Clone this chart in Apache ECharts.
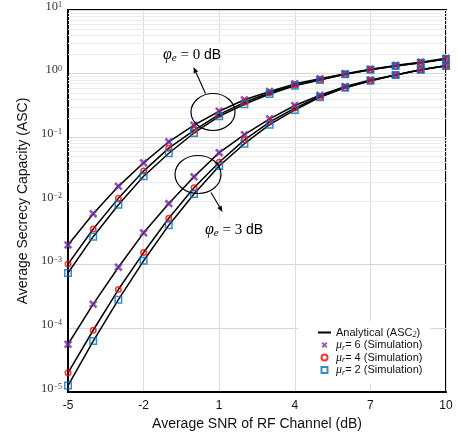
<!DOCTYPE html>
<html>
<head>
<meta charset="utf-8">
<script src="https://cdn.jsdelivr.net/npm/echarts@6/dist/echarts.min.js"></script>
<style>
  html, body { margin: 0; padding: 0; background: #fff; }
  #chart { width: 458px; height: 437px; }
</style>
</head>
<body>
<div id="chart"></div>
<script>
// Average SNR of the RF channel (dB)
const snr = [-5, -4, -3, -2, -1, 0, 1, 2, 3, 4, 5, 6, 7, 8, 9, 10];

// Average secrecy capacity, phi_e = 0 dB
const asc0_mu6 = [2.04e-3, 6.31e-3, 0.0170, 0.0398, 0.0851, 0.155, 0.257, 0.389, 0.525, 0.692, 0.832, 1.00, 1.175, 1.35, 1.51, 1.74];
const asc0_mu4 = [1.02e-3, 3.63e-3, 0.0110, 0.0295, 0.0676, 0.129, 0.229, 0.355, 0.501, 0.661, 0.813, 0.977, 1.15, 1.32, 1.48, 1.70];
const asc0_mu2 = [7.41e-4, 2.75e-3, 8.71e-3, 0.0245, 0.0562, 0.117, 0.214, 0.331, 0.479, 0.646, 0.794, 0.977, 1.15, 1.32, 1.48, 1.70];

// Average secrecy capacity, phi_e = 3 dB
const asc3_mu6 = [5.62e-5, 2.40e-4, 9.12e-4, 3.16e-3, 9.12e-3, 0.0240, 0.0575, 0.110, 0.195, 0.316, 0.457, 0.631, 0.794, 0.955, 1.15, 1.35];
const asc3_mu4 = [2.00e-5, 9.33e-5, 4.07e-4, 1.55e-3, 5.37e-3, 0.0162, 0.0407, 0.0912, 0.174, 0.288, 0.437, 0.603, 0.776, 0.955, 1.15, 1.33];
const asc3_mu2 = [1.26e-5, 6.31e-5, 2.82e-4, 1.15e-3, 4.17e-3, 0.0129, 0.0355, 0.0794, 0.158, 0.269, 0.427, 0.603, 0.776, 0.955, 1.15, 1.32];

// Axis ranges
const xMin = -5, xMax = 10, xStep = 3;
const yMin = 1e-5, yMax = 10;

const NAME_ANA = 'Analytical (ASC2)';
const NAME_MU6 = 'mu6';
const NAME_MU4 = 'mu4';
const NAME_MU2 = 'mu2';

const PURPLE = '#7030A0', RED = '#FF0000', BLUE = '#0070C0';
const X_PATH = 'path://M0,2.2 L2.2,0 L10,7.8 L7.8,10 Z M7.8,0 L10,2.2 L2.2,10 L0,7.8 Z';
const SQ_PATH = 'path://M0,0 L10,0 L10,10 L0,10 Z';

const pairs = ys => snr.map((x, i) => [x, ys[i]]);

function analytic(ys) {
  return {
    type: 'line', name: NAME_ANA, data: pairs(ys),
    symbol: 'none', smooth: false,
    color: '#000',
    lineStyle: { color: '#000', width: 1.5 },
    itemStyle: { color: '#000' },
    silent: true, z: 3
  };
}

function sim(name, ys, kind) {
  const base = { type: 'scatter', name: name, data: pairs(ys), silent: true };
  if (kind === 'x') {
    return Object.assign(base, { symbol: X_PATH, symbolSize: 8.5, itemStyle: { color: PURPLE }, z: 4 });
  }
  if (kind === 'o') {
    return Object.assign(base, { symbol: 'circle', symbolSize: 5.5, itemStyle: { color: 'rgba(0,0,0,0)', borderColor: RED, borderWidth: 1.5 }, z: 5 });
  }
  return Object.assign(base, { symbol: 'rect', symbolSize: 6.5, itemStyle: { color: 'rgba(0,0,0,0)', borderColor: BLUE, borderWidth: 1.5 }, z: 6 });
}

// light minor grid at 2..9 within each decade
const minorGrid = [];
for (let d = -5; d < 1; d++) {
  for (let k = 2; k <= 9; k++) minorGrid.push({ yAxis: k * Math.pow(10, d) });
}

function expLabel(v) {
  const e = Math.round(Math.log10(v));
  const s = String(e).replace('-', '\u2212');
  return '{b|10}{e|' + s + '}';
}

const chart = echarts.init(document.getElementById('chart'), null, { renderer: 'canvas' });

const series = [
  Object.assign(analytic(asc0_mu6), {
    markLine: {
      silent: true, symbol: 'none', z: 1, animation: false,
      label: { show: false },
      lineStyle: { color: '#ececec', width: 1, type: 'solid' },
      emphasis: { disabled: true },
      data: minorGrid
    }
  }),
  analytic(asc0_mu4), analytic(asc0_mu2),
  analytic(asc3_mu6), analytic(asc3_mu4), analytic(asc3_mu2),
  sim(NAME_MU6, asc0_mu6, 'x'), sim(NAME_MU6, asc3_mu6, 'x'),
  sim(NAME_MU4, asc0_mu4, 'o'), sim(NAME_MU4, asc3_mu4, 'o'),
  sim(NAME_MU2, asc0_mu2, 's'), sim(NAME_MU2, asc3_mu2, 's')
];

const legendText = {
  [NAME_ANA]: '{t|Analytical (ASC}{sub|2}{t|)}',
  [NAME_MU6]: '{mu|\u03bc}{sub|r}{t|= 6 (Simulation)}',
  [NAME_MU4]: '{mu|\u03bc}{sub|r}{t|= 4 (Simulation)}',
  [NAME_MU2]: '{mu|\u03bc}{sub|r}{t|= 2 (Simulation)}'
};

// annotation helpers
function arrow(x1, y1, x2, y2) {
  const ang = Math.atan2(y2 - y1, x2 - x1);
  const L = 6, W = 2.4;
  const bx = x2 - L * Math.cos(ang), by = y2 - L * Math.sin(ang);
  const px = -Math.sin(ang) * W, py = Math.cos(ang) * W;
  return [
    { type: 'line', shape: { x1: x1, y1: y1, x2: bx, y2: by }, style: { stroke: '#000', lineWidth: 1.1 }, silent: true, z: 10 },
    { type: 'polygon', shape: { points: [[x2, y2], [bx + px, by + py], [bx - px, by - py]] }, style: { fill: '#000' }, silent: true, z: 10 }
  ];
}

const annRich = {
  p: { fontFamily: 'Liberation Serif', fontStyle: 'italic', fontSize: 16, color: '#222', lineHeight: 18, verticalAlign: 'middle' },
  s: { fontFamily: 'Liberation Serif', fontStyle: 'italic', fontSize: 11, color: '#222', lineHeight: 11, verticalAlign: 'bottom' },
  q: { fontFamily: 'Liberation Serif', fontSize: 15, color: '#222', lineHeight: 18, verticalAlign: 'middle' },
  u: { fontFamily: 'Liberation Sans', fontSize: 14, color: '#222', lineHeight: 18, verticalAlign: 'middle' }
};

function annText(x, y, val) {
  return {
    type: 'text', x: x, y: y, silent: true, z: 9,
    style: {
      text: '{p|\u03c6}{s|e}{q| = ' + val + ' }{u|dB}',
      rich: annRich,
      backgroundColor: '#fff',
      padding: [2, 4, 2, 4],
      align: 'center', verticalAlign: 'middle'
    }
  };
}

const graphics = [
  annText(192, 55, '0'),
  { type: 'ellipse', shape: { cx: 213, cy: 112, rx: 22, ry: 18.5 }, style: { fill: 'none', stroke: '#000', lineWidth: 1.2 }, silent: true, z: 10 },
  ...arrow(205.5, 93.5, 193.5, 67),
  annText(234, 230, '3'),
  { type: 'ellipse', shape: { cx: 198, cy: 174.5, rx: 23, ry: 19 }, style: { fill: 'none', stroke: '#000', lineWidth: 1.2 }, silent: true, z: 10 },
  ...arrow(211, 192.5, 222.5, 212)
];

chart.setOption({
  animation: false,
  backgroundColor: '#fff',
  grid: {
    left: 68, right: 12, top: 8, bottom: 45,
    show: true, borderColor: '#000', borderWidth: 2, backgroundColor: 'transparent',
    containLabel: false
  },
  xAxis: {
    type: 'value', min: xMin, max: xMax, interval: xStep,
    name: 'Average SNR of RF Channel (dB)',
    nameLocation: 'middle', nameGap: 24,
    nameTextStyle: { fontFamily: 'Liberation Sans', fontSize: 14, color: '#111' },
    axisLine: { show: true, onZero: false, lineStyle: { color: '#000', width: 2 } },
    axisTick: { show: false },
    axisLabel: { fontFamily: 'Liberation Sans', fontSize: 12, color: '#111', margin: 8 },
    splitLine: { show: true, lineStyle: { color: '#dcdcdc', width: 1 } }
  },
  yAxis: {
    type: 'log', logBase: 10, min: yMin, max: yMax, interval: 1,
    name: 'Average Secrecy Capacity (ASC)',
    nameLocation: 'middle', nameGap: 38,
    nameTextStyle: { fontFamily: 'Liberation Sans', fontSize: 14, color: '#111' },
    axisLine: { show: true, onZero: false, lineStyle: { color: '#000', width: 2 } },
    axisTick: { show: false },
    axisLabel: {
      margin: 6,
      formatter: expLabel,
      rich: {
        b: { fontFamily: 'Liberation Serif', fontSize: 12.5, color: '#333', lineHeight: 18, verticalAlign: 'bottom', padding: [0, 0, 6, 0] },
        e: { fontFamily: 'Liberation Serif', fontSize: 8, color: '#333', lineHeight: 10, verticalAlign: 'top' }
      }
    },
    splitLine: { show: true, lineStyle: { color: '#d4d4d4', width: 1 } },
    minorSplitLine: { show: false }
  },
  legend: {
    orient: 'vertical',
    left: 298, top: 321,
    width: 140,
    padding: [6, 8, 7, 20],
    backgroundColor: '#fff',
    itemWidth: 13, itemHeight: 6, itemGap: 0,
    selectedMode: false,
    data: [
      { name: NAME_ANA, icon: 'path://M0,0 L13,0 L13,2 L0,2 Z' },
      { name: NAME_MU6, icon: X_PATH },
      { name: NAME_MU4, icon: 'circle' },
      { name: NAME_MU2, icon: SQ_PATH }
    ],
    formatter: n => legendText[n],
    textStyle: {
      rich: {
        t: { fontFamily: 'Liberation Sans', fontSize: 11, color: '#111', lineHeight: 13, verticalAlign: 'middle' },
        mu: { fontFamily: 'Liberation Serif', fontStyle: 'italic', fontSize: 12, color: '#111', lineHeight: 13, verticalAlign: 'middle' },
        sub: { fontFamily: 'Liberation Serif', fontStyle: 'italic', fontSize: 8, color: '#111', lineHeight: 8, verticalAlign: 'bottom' }
      }
    }
  },
  graphic: graphics,
  series: series
});
</script>
</body>
</html>
